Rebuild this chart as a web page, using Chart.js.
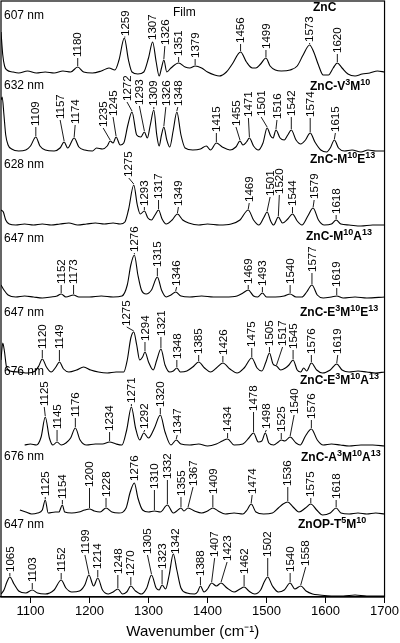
<!DOCTYPE html>
<html>
<head>
<meta charset="utf-8">
<script src="https://cdn.jsdelivr.net/npm/chart.js@4.4.1/dist/chart.umd.min.js"></script>
<style>
  html, body { margin: 0; padding: 0; background: #fff; }
  canvas { display: block; }
</style>
</head>
<body>
<canvas id="raman" width="400" height="643"></canvas>
<script>
// ─── Raman spectra, stacked (intensities are relative to each trace baseline) ───

const tickValues = [1100, 1200, 1300, 1400, 1500, 1600, 1700];

// ZnC film, 607 nm
const wnZnC = [1050,1053,1056,1060,1070,1080,1095,1110,1125,1140,1155,1168,1180,1190,1205,1220,1233,1243,1250,1259,1266,1272,1282,1292,1300,1307,1313,1318,1322,1326,1331,1338,1351,1362,1370,1379,1390,1400,1412,1420,1432,1442,1456,1466,1476,1482,1490,1499,1506,1515,1525,1540,1552,1562,1573,1580,1588,1596,1605,1613,1620,1628,1638,1650,1662,1675,1688,1700];
const intZnC = [40,17,6,2,0,-1,1,-1,0,-1,1,0,5,0,-1,1,4,2,12,34,12,0,-2,0,14,30,10,-4,4,12,0,4,9,5,4,6,4,0,-3,-4,0,8,20,10,4,4,8,14,6,2,1,2,6,17,27,20,7,-3,-3,4,9,4,-2,-4,-2,-1,1,0];
const peaksZnC = [1180, 1259, 1307, 1326, 1351, 1379, 1456, 1499, 1573, 1620];

// ZnC-V3M10, 632 nm
const wnV3M10 = [1050,1052,1055,1058,1062,1068,1080,1092,1100,1109,1116,1125,1140,1150,1157,1163,1174,1182,1192,1205,1212,1222,1230,1235,1240,1245,1252,1258,1265,1272,1280,1287,1293,1298,1303,1309,1314,1318,1322,1326,1331,1336,1342,1348,1355,1362,1375,1388,1398,1405,1415,1425,1438,1448,1455,1460,1466,1471,1478,1486,1494,1501,1507,1511,1516,1523,1530,1536,1542,1550,1558,1566,1574,1582,1592,1602,1608,1615,1622,1632,1645,1660,1672,1685,1700];
const intV3M10 = [50,53,35,15,5,1,-1,0,4,13,4,0,-1,2,8,2,12,3,0,-1,2,1,4,9,7,13,5,7,25,38,15,13,18,12,25,40,15,4,15,23,10,3,20,38,15,2,0,1,4,0,7,3,0,3,9,5,8,12,4,0,7,22,14,12,20,12,10,15,20,10,6,10,17,8,0,-2,2,10,2,-1,0,-2,0,-1,-1];
const peaksV3M10 = [1109, 1157, 1174, 1235, 1245, 1272, 1293, 1309, 1326, 1348, 1415, 1455, 1471, 1501, 1516, 1542, 1574, 1615];

// ZnC-M10E13, 628 nm
const wnM10E13 = [1050,1054,1058,1064,1075,1090,1105,1120,1135,1150,1165,1180,1195,1210,1225,1240,1252,1260,1266,1275,1281,1286,1293,1299,1305,1311,1317,1323,1330,1340,1349,1358,1368,1385,1400,1420,1440,1455,1469,1478,1487,1495,1501,1507,1512,1520,1527,1536,1544,1552,1560,1570,1579,1588,1598,1610,1618,1626,1640,1660,1680,1700];
const intM10E13 = [15,13,5,1,0,1,0,1,0,1,2,0,1,2,1,2,1,3,15,40,20,11,14,7,5,10,15,6,1,5,11,5,2,0,1,0,1,5,15,5,0,7,13,4,0,8,2,6,11,4,0,9,17,5,0,1,5,1,0,-1,0,0];
const peaksM10E13 = [1275, 1293, 1317, 1349, 1469, 1501, 1520, 1544, 1579, 1618];

// ZnC-M10A13, 647 nm
const wnM10A13 = [1050,1055,1062,1075,1090,1105,1120,1135,1145,1152,1160,1173,1182,1200,1220,1240,1255,1264,1270,1276,1282,1288,1296,1305,1315,1322,1330,1338,1346,1355,1370,1390,1410,1430,1450,1460,1469,1478,1485,1493,1500,1515,1530,1540,1550,1560,1568,1577,1586,1596,1610,1619,1630,1650,1670,1700];
const intM10A13 = [12,7,2,0,1,0,-1,0,1,3,0,2,0,0,1,0,1,12,32,42,22,7,3,7,20,7,0,2,5,1,0,1,0,0,1,4,7,1,0,4,0,0,1,3,0,0,5,12,2,-1,0,1,-1,0,-1,0];
const peaksM10A13 = [1152, 1173, 1276, 1315, 1346, 1469, 1493, 1540, 1577, 1619];

// ZnC-E3M10E13, 647 nm
const wnE3M10E13 = [1050,1053,1056,1059,1065,1080,1095,1108,1114,1120,1127,1135,1143,1149,1156,1165,1178,1190,1202,1215,1230,1245,1258,1264,1270,1275,1280,1285,1290,1294,1300,1308,1314,1321,1328,1336,1342,1348,1354,1365,1375,1385,1395,1405,1415,1426,1438,1450,1462,1475,1484,1492,1499,1505,1511,1517,1524,1532,1538,1545,1552,1558,1563,1568,1576,1585,1595,1608,1619,1628,1640,1655,1670,1685,1700];
const intE3M10E13 = [12,29,20,6,1,0,-1,1,6,13,5,0,5,10,3,0,2,5,2,0,-1,0,0,12,34,40,27,12,15,20,10,2,12,23,7,0,1,4,0,1,5,10,4,0,4,9,3,-1,4,14,4,1,10,19,8,6,2,4,7,12,2,0,4,1,9,2,-1,2,8,2,0,1,0,-1,0];
const peaksE3M10E13 = [1120, 1149, 1275, 1294, 1321, 1348, 1385, 1426, 1475, 1505, 1517, 1545, 1576, 1619];

// ZnC-E3M10A13, 676 nm
const wnE3M10A13 = [1090,1100,1110,1118,1125,1132,1138,1145,1152,1160,1168,1176,1184,1195,1210,1222,1234,1245,1255,1263,1271,1278,1285,1292,1300,1310,1320,1328,1338,1347,1355,1370,1385,1400,1415,1425,1434,1445,1460,1470,1478,1486,1492,1498,1504,1512,1520,1525,1531,1540,1550,1557,1566,1576,1586,1596,1610,1625,1640,1660,1680,1700];
const intE3M10A13 = [0,1,0,8,28,7,0,3,0,2,7,17,5,0,1,1,3,1,0,15,38,17,5,12,7,17,30,13,0,5,1,0,1,-1,1,4,6,0,1,7,12,3,4,12,2,0,3,5,4,8,2,0,9,16,5,0,1,0,-1,0,0,-1];
const peaksE3M10A13 = [1125, 1145, 1176, 1234, 1271, 1292, 1320, 1347, 1434, 1478, 1498, 1525, 1540, 1576];

// ZnC-A3M10A13, 676 nm
const wnA3M10A13 = [1082,1092,1102,1112,1120,1125,1130,1142,1148,1154,1158,1170,1182,1192,1200,1208,1218,1228,1238,1250,1262,1269,1276,1282,1290,1300,1310,1320,1332,1342,1348,1355,1360,1367,1378,1390,1400,1409,1418,1430,1445,1460,1467,1474,1482,1495,1510,1520,1528,1536,1545,1555,1566,1575,1585,1595,1608,1618,1626,1640,1655,1670,1685,1700];
const intA3M10A13 = [3,1,-1,0,3,13,0,1,1,8,1,0,1,3,4,2,1,5,1,0,5,21,30,15,3,1,2,1,8,0,2,5,2,5,2,0,2,5,2,-1,0,-1,3,9,1,-1,0,5,9,11,6,1,5,9,3,-2,0,5,0,-1,0,-1,0,-1];
const peaksA3M10A13 = [1125, 1154, 1200, 1228, 1276, 1310, 1332, 1355, 1367, 1409, 1474, 1536, 1575, 1618];

// ZnOP-T5M10, 647 nm
const wnT5M10 = [1050,1055,1060,1065,1072,1080,1092,1103,1112,1125,1140,1152,1160,1170,1183,1192,1199,1207,1214,1222,1232,1240,1248,1256,1263,1270,1278,1288,1297,1305,1313,1318,1323,1329,1335,1342,1348,1355,1365,1378,1383,1388,1394,1400,1407,1415,1423,1433,1445,1455,1462,1470,1480,1490,1496,1502,1510,1520,1530,1540,1548,1558,1567,1578,1590,1610,1630,1650,1670,1700];
const intT5M10 = [0,4,12,17,10,3,1,4,1,0,4,14,6,2,3,9,19,8,16,4,0,2,5,0,2,8,3,0,6,19,6,4,9,5,19,40,24,6,1,0,2,8,2,5,11,8,11,6,2,5,7,3,0,4,12,17,8,2,4,11,5,8,3,0,-1,-2,-2,-1,-2,-2];
const peaksT5M10 = [1065, 1103, 1152, 1199, 1214, 1248, 1270, 1305, 1323, 1342, 1388, 1407, 1423, 1462, 1502, 1540, 1558];

// vertical offsets of the stacked traces
const offsets = [525, 447, 372, 300, 225, 152, 84, 3];
const lasers = ['607 nm', '632 nm', '628 nm', '647 nm', '647 nm', '676 nm', '676 nm', '647 nm'];

// label layout: [height of label base above trace baseline, x shift in px]
const labelLayout = [
  [[14,0],[35,1],[31,0],[26,1],[15,0],[13,0],[28,0],[22,0],[29,0],[18,0]],
  [[23,0],[30,-4],[25,1],[22,-7],[33,-3],[48,-5],[44,-5],[43,0],[43,2],[43,1],[17,0],[23,-4],[32,-1],[33,-6],[30,1],[33,0],[32,0],[17,1]],
  [[47,-5],[18,0],[25,0],[18,1],[22,1],[28,3],[30,1],[18,0],[25,1],[10,0]],
  [[12,0],[12,0],[44,0],[29,0],[10,1],[12,0],[10,0],[12,0],[24,0],[9,0]],
  [[22,0],[22,0],[45,-7],[30,0],[35,0],[12,0],[17,0],[16,0],[24,0],[25,0],[25,6],[22,0],[17,0],[17,1]],
  [[38,-1],[15,0],[27,0],[13,0],[41,0],[15,1],[37,0],[10,1],[12,0],[33,0],[15,1],[12,0],[30,4],[25,0]],
  [[16,0],[13,0],[25,0],[15,0],[31,0],[23,0],[33,0],[16,0],[26,5],[18,0],[18,1],[26,0],[15,0],[13,0]],
  [[21,0],[11,0],[21,0],[39,-4],[24,0],[19,0],[17,0],[39,-4],[24,0],[39,2],[17,0],[36,3],[32,6],[19,0],[36,0],[21,0],[27,5]]
];

// sample names: [text, superscript?] parts, and their [x, y] px placement
const sampleNames = [
  [['ZnC',0]],
  [['ZnC-V',0],['3',1],['M',0],['10',1]],
  [['ZnC-M',0],['10',1],['E',0],['13',1]],
  [['ZnC-M',0],['10',1],['A',0],['13',1]],
  [['ZnC-E',0],['3',1],['M',0],['10',1],['E',0],['13',1]],
  [['ZnC-E',0],['3',1],['M',0],['10',1],['A',0],['13',1]],
  [['ZnC-A',0],['3',1],['M',0],['10',1],['A',0],['13',1]],
  [['ZnOP-T',0],['5',1],['M',0],['10',1]]
];
const namePos = [[313,8],[310,87],[310,160],[306,237],[300,313],[300,381],[301,458],[298,525]];
const laserPos = [[4,16],[4,86],[4,165],[4,239],[4,313],[4,372],[4,457],[4,525]];

const traces = [
  { wn: wnZnC, int: intZnC, peaks: peaksZnC },
  { wn: wnV3M10, int: intV3M10, peaks: peaksV3M10 },
  { wn: wnM10E13, int: intM10E13, peaks: peaksM10E13 },
  { wn: wnM10A13, int: intM10A13, peaks: peaksM10A13 },
  { wn: wnE3M10E13, int: intE3M10E13, peaks: peaksE3M10E13 },
  { wn: wnE3M10A13, int: intE3M10A13, peaks: peaksE3M10A13 },
  { wn: wnA3M10A13, int: intA3M10A13, peaks: peaksA3M10A13 },
  { wn: wnT5M10, int: intT5M10, peaks: peaksT5M10 }
];
traces.forEach((t, i) => { t.offset = offsets[i]; t.layout = labelLayout[i]; });

const FONT = '"Liberation Sans", Arial, Helvetica, sans-serif';

function valueAt(t, w) {
  const k = t.wn.indexOf(w);
  if (k >= 0) return t.int[k];
  for (let i = 1; i < t.wn.length; i++) {
    if (t.wn[i] >= w) {
      const f = (w - t.wn[i - 1]) / (t.wn[i] - t.wn[i - 1]);
      return t.int[i - 1] + f * (t.int[i] - t.int[i - 1]);
    }
  }
  return 0;
}

function drawRich(ctx, parts, x, y) {
  let cx = x;
  parts.forEach(([txt, sup]) => {
    ctx.font = sup ? 'bold 9px ' + FONT : 'bold 12px ' + FONT;
    ctx.fillText(txt, cx, sup ? y - 4 : y);
    cx += ctx.measureText(txt).width;
  });
}

const annotations = {
  id: 'annotations',
  afterDatasetsDraw(chart) {
    const { ctx, chartArea, scales: { x, y } } = chart;
    ctx.save();
    ctx.fillStyle = '#000';
    ctx.strokeStyle = '#000';

    // peak labels with leader lines
    ctx.lineWidth = 0.9;
    ctx.font = '11.5px ' + FONT;
    traces.forEach(t => {
      t.peaks.forEach((p, i) => {
        const [lift, dx] = t.layout[i];
        const px = x.getPixelForValue(p);
        const py = y.getPixelForValue(t.offset + valueAt(t, p));
        const tx = px + dx;
        const ty = y.getPixelForValue(t.offset + lift);
        if (ty < py - 1) {
          ctx.beginPath();
          ctx.moveTo(px, py - 1);
          ctx.lineTo(tx, ty);
          ctx.stroke();
        }
        ctx.save();
        ctx.translate(tx, ty - 1);
        ctx.rotate(-Math.PI / 2);
        ctx.textAlign = 'left';
        ctx.textBaseline = 'middle';
        ctx.fillText(String(p), 0, 0.5);
        ctx.restore();
      });
    });

    // laser lines and sample names
    ctx.textAlign = 'left';
    ctx.textBaseline = 'middle';
    ctx.font = '12px ' + FONT;
    lasers.forEach((l, i) => ctx.fillText(l, laserPos[i][0], laserPos[i][1]));
    ctx.fillText('Film', 173, 13);
    sampleNames.forEach((parts, i) => drawRich(ctx, parts, namePos[i][0], namePos[i][1]));

    // plot frame
    ctx.lineWidth = 1.2;
    ctx.strokeRect(chartArea.left, chartArea.top, chartArea.right - chartArea.left, chartArea.bottom - chartArea.top);
    ctx.restore();
  }
};

new Chart(document.getElementById('raman').getContext('2d'), {
  type: 'line',
  data: {
    datasets: traces.map(t => ({
      data: t.wn.map((w, i) => ({ x: w, y: t.offset + t.int[i] })),
      borderColor: '#000',
      borderWidth: 1.1,
      pointRadius: 0,
      fill: false,
      cubicInterpolationMode: 'monotone'
    }))
  },
  options: {
    responsive: false,
    animation: false,
    layout: { padding: { left: 1, right: 14, top: 1, bottom: 0 } },
    plugins: { legend: { display: false }, tooltip: { enabled: false } },
    scales: {
      x: {
        type: 'linear',
        min: 1050,
        max: 1700,
        afterBuildTicks: s => { s.ticks = tickValues.map(v => ({ value: v })); },
        afterFit: s => { s.height = 46; },
        ticks: {
          callback: v => String(v),
          color: '#000',
          font: { family: FONT, size: 13 },
          padding: 1,
          maxRotation: 0,
          autoSkip: false
        },
        grid: { drawOnChartArea: false, tickLength: 6, color: '#000', lineWidth: 1 },
        border: { color: '#000', width: 1.2 },
        title: {
          display: true,
          text: 'Wavenumber (cm\u207B\u00B9)',
          color: '#000',
          font: { family: FONT, size: 15 },
          padding: { top: 0, bottom: 2 }
        }
      },
      y: { display: false, min: 0, max: 596 }
    }
  },
  plugins: [annotations]
});
</script>
</body>
</html>
